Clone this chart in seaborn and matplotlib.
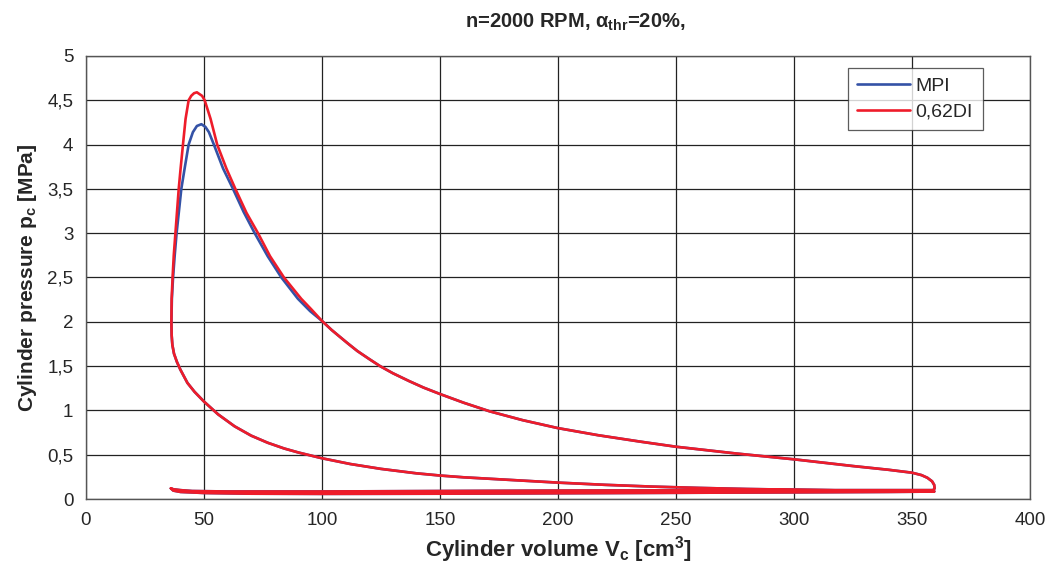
import numpy as np
import pandas as pd
import seaborn as sns
import matplotlib.pyplot as plt
from matplotlib.ticker import FuncFormatter, MultipleLocator

# --- values ---
# intake stroke (TDC -> BDC), shared
intake_v = [36, 37, 40, 50, 70, 100, 150, 200, 250, 300, 340, 355, 359.5]
intake_p = [0.12, 0.095, 0.08, 0.068, 0.06, 0.058, 0.06, 0.065, 0.07, 0.075, 0.08, 0.083, 0.086]

# compression stroke (BDC -> TDC), shared
comp_v = [359.5, 350, 330, 300, 280, 260, 240, 220, 200, 180, 160, 150, 140, 125, 112, 100,
          90, 84, 77, 70, 63, 56, 50, 46, 43, 40, 38.5, 37.3]
comp_p = [0.086, 0.088, 0.093, 0.105, 0.113, 0.125, 0.14, 0.16, 0.185, 0.215, 0.245, 0.265,
          0.29, 0.34, 0.395, 0.46, 0.525, 0.57, 0.635, 0.715, 0.82, 0.955, 1.10, 1.21, 1.31,
          1.46, 1.55, 1.64]

# combustion + early expansion, MPI
mpi_v = [36.6, 36.3, 36.2, 36.4, 36.9, 37.6, 38.4, 39.4, 40.4, 41.8, 43.5, 45.3, 47.0, 48.9,
         50.6, 52.1, 54.2, 58.1, 62.3, 66.8, 71.5, 77.0, 82.8, 89.8, 95.0]
mpi_p = [1.74, 1.85, 2.0, 2.26, 2.5, 2.75, 3.0, 3.25, 3.5, 3.73, 4.0, 4.14, 4.21, 4.23,
         4.2, 4.14, 4.0, 3.73, 3.5, 3.24, 3.0, 2.74, 2.5, 2.26, 2.12]

# combustion + early expansion, 0,62DI
di_v = [36.6, 36.3, 36.2, 36.3, 36.7, 37.2, 37.9, 38.6, 39.3, 40.1, 41.1, 42.2, 43.5, 44.6,
        45.8, 47.0, 49.2, 50.3, 52.8, 55.6, 59.5, 63.3, 68.0, 72.9, 78.0, 83.9, 91.2, 95.5]
di_p = [1.74, 1.85, 2.0, 2.26, 2.5, 2.75, 3.0, 3.25, 3.5, 3.73, 4.0, 4.29, 4.5, 4.55,
        4.58, 4.59, 4.55, 4.5, 4.29, 4.0, 3.73, 3.5, 3.23, 3.0, 2.74, 2.5, 2.26, 2.14]

# late expansion (to BDC), shared
exp_v = [100, 104, 107.6, 111, 115, 120, 124.6, 130, 137, 143, 150, 160, 171, 185, 200, 217,
         235, 250, 275, 300, 325, 340, 350, 354, 356.5, 358.5, 359.4, 359.6, 359]
exp_p = [2.01, 1.91, 1.83, 1.755, 1.67, 1.58, 1.5, 1.42, 1.33, 1.258, 1.185, 1.087, 0.99,
         0.89, 0.8, 0.72, 0.647, 0.59, 0.515, 0.448, 0.372, 0.33, 0.297, 0.27, 0.24, 0.2,
         0.16, 0.12, 0.1]

# exhaust stroke (BDC -> TDC), shared
exh_v = [355, 350, 300, 250, 200, 150, 100, 60, 45, 40, 37, 36]
exh_p = [0.1, 0.1, 0.1, 0.098, 0.095, 0.09, 0.085, 0.085, 0.09, 0.1, 0.11, 0.12]

series_names = ["MPI", "0,62DI"]
colors = {"MPI": "#3452A6", "0,62DI": "#EE1C2A"}


def cycle(name, hot_v, hot_p):
    v = intake_v + comp_v + hot_v + exp_v + exh_v
    p = intake_p + comp_p + hot_p + exp_p + exh_p
    return pd.DataFrame({"V": v, "p": p, "series": name})


df = pd.concat([cycle("MPI", mpi_v, mpi_p), cycle("0,62DI", di_v, di_p)], ignore_index=True)

sns.set_style("white")
plt.rcParams["font.family"] = ["Liberation Sans", "DejaVu Sans"]
plt.rcParams["mathtext.fontset"] = "custom"
plt.rcParams["mathtext.rm"] = "Liberation Sans"
plt.rcParams["mathtext.bf"] = "Liberation Sans:bold"
plt.rcParams["mathtext.it"] = "Liberation Sans:italic"

fig, ax = plt.subplots(figsize=(10.51, 5.82), dpi=100)
fig.subplots_adjust(left=0.0818, right=0.980, bottom=0.1426, top=0.9038)

sns.lineplot(data=df, x="V", y="p", hue="series", hue_order=series_names,
             palette=colors, sort=False, estimator=None, linewidth=1.9, ax=ax)

ax.set_xlim(0, 400)
ax.set_ylim(0, 5)
ax.xaxis.set_major_locator(MultipleLocator(50))
ax.yaxis.set_major_locator(MultipleLocator(0.5))
ax.yaxis.set_major_formatter(FuncFormatter(lambda y, _: f"{y:g}".replace(".", ",")))
ax.grid(True, color="#222222", linewidth=0.9)
ax.set_axisbelow(True)
for s in ax.spines.values():
    s.set_color("#555555")
    s.set_linewidth(1.0)
ax.tick_params(axis="both", direction="out", length=5, width=0.9, color="#333333",
               labelsize=13.5, pad=4)

ax.set_xlabel(r"Cylinder volume $\mathbf{V_c}$ [cm$\mathbf{^3}$]", fontsize=16,
              fontweight="bold", labelpad=4)
ax.set_ylabel(r"Cylinder pressure p$\mathbf{_c}$ [MPa]", fontsize=15,
              fontweight="bold", labelpad=6)
fig.text(575 / 1051, 1 - 22 / 582, r"n=2000 RPM, α$\mathbf{_{thr}}$=20%,",
         ha="center", va="center", fontsize=14.5, fontweight="bold")

leg = ax.legend(loc="upper right", bbox_to_anchor=(0.950, 0.973), borderaxespad=0,
                fontsize=14, handlelength=2.7, handletextpad=0.3, labelspacing=0.4,
                frameon=True, fancybox=False, edgecolor="#333333", borderpad=0.5,
                title=None)
leg.get_frame().set_linewidth(0.9)
for line in leg.get_lines():
    line.set_linewidth(1.9)

fig.savefig("out.png", dpi=100)
